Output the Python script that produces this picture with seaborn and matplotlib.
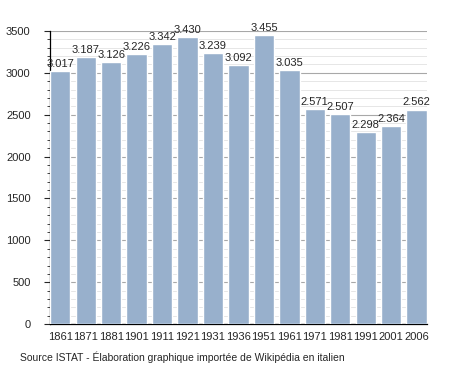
import seaborn as sns
import matplotlib.pyplot as plt
import pandas as pd
from matplotlib.ticker import MultipleLocator

years = ['1861', '1871', '1881', '1901', '1911', '1921', '1931', '1936',
         '1951', '1961', '1971', '1981', '1991', '2001', '2006']
population = [3017, 3187, 3126, 3226, 3342, 3430, 3239, 3092,
              3455, 3035, 2571, 2507, 2298, 2364, 2562]

df = pd.DataFrame({'year': years, 'pop': population})

sns.set_style('white')
plt.rcParams['font.family'] = ['Liberation Sans', 'DejaVu Sans']

fig = plt.figure(figsize=(4.55, 3.73), dpi=100)
ax = fig.add_axes([0.110, 0.131, 0.828, 0.786])

sns.barplot(data=df, x='year', y='pop', color='#98b0cc', saturation=1,
            width=0.8, ax=ax, zorder=3)

ax.set_ylim(0, 3500)
ax.set_xlim(-0.4, len(years) - 0.6)
ax.yaxis.set_major_locator(MultipleLocator(500))
ax.yaxis.set_minor_locator(MultipleLocator(100))
ax.grid(axis='y', which='major', color='#a8a8a8', linewidth=0.8, zorder=0)
ax.grid(axis='y', which='minor', color='#e2e2e2', linewidth=0.6, zorder=0)
ax.set_axisbelow(True)

for s in ['top', 'right']:
    ax.spines[s].set_visible(False)
for s in ['left', 'bottom']:
    ax.spines[s].set_color('black')
    ax.spines[s].set_linewidth(0.9)

ax.tick_params(axis='y', which='major', left=True, length=4, width=0.8,
               labelsize=8, pad=10)
ax.tick_params(axis='y', which='minor', left=True, length=2, width=0.6)
ax.tick_params(axis='x', bottom=False, labelsize=8, pad=2)
ax.set_xlabel('')
ax.set_ylabel('')

for i, v in enumerate(population):
    lab = f'{v:,}'.replace(',', '.')
    ax.text(i, v + 25, lab, ha='center', va='bottom', fontsize=8)

fig.text(0.044, 0.043, 'Source ISTAT - Élaboration graphique importée de Wikipédia en italien',
         fontsize=7.5, ha='left', va='center')

fig.savefig('out.png', dpi=100, facecolor='white')
